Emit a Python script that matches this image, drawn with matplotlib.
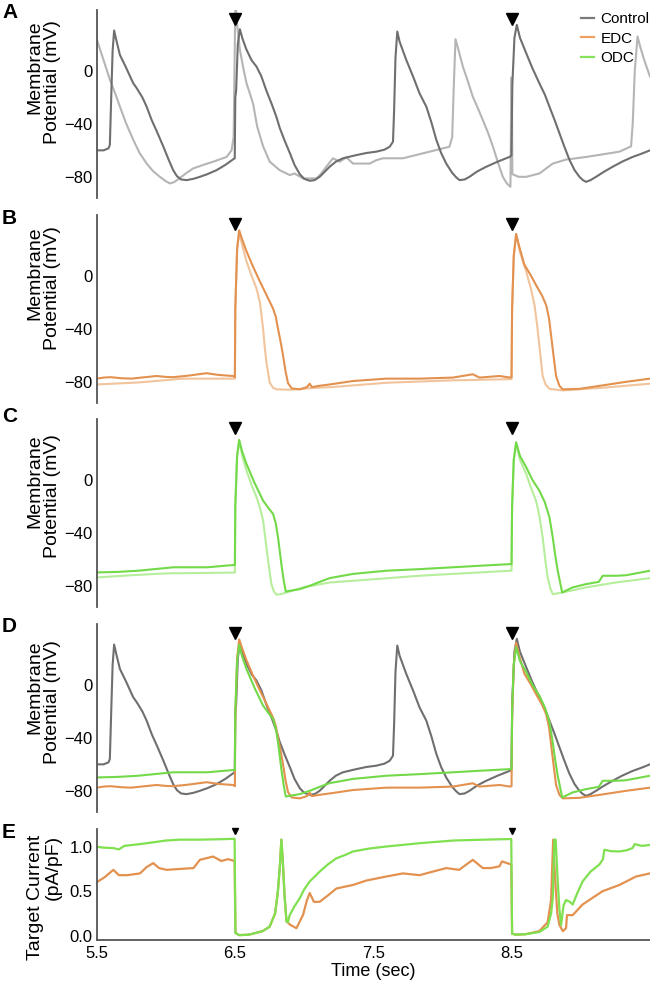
import matplotlib
matplotlib.use("Agg")
import matplotlib.pyplot as plt

plt.rcParams['font.family'] = ['Liberation Sans', 'DejaVu Sans']

# ---- data (time in s, voltage in mV) ----
stim_t = [6.5, 8.5]

# Panel A: control, primary (dark) trace (also used in D)
t_ctrl = [5.5, 5.55, 5.585, 5.595, 5.605, 5.615, 5.626, 5.64, 5.668, 5.71, 5.764, 5.789,
          5.83, 5.861, 5.897, 5.94, 5.981, 6.02, 6.053, 6.08, 6.11, 6.15, 6.2, 6.246,
          6.3, 6.366, 6.43, 6.486, 6.498, 6.502, 6.508, 6.52, 6.535, 6.555, 6.583, 6.62,
          6.655, 6.69, 6.727, 6.765, 6.80, 6.823, 6.86, 6.896, 6.93, 6.968, 7.0, 7.04,
          7.075, 7.112, 7.15, 7.184, 7.23, 7.28, 7.377, 7.45, 7.522, 7.58, 7.618, 7.642,
          7.65, 7.66, 7.673, 7.69, 7.738, 7.79, 7.834, 7.883, 7.92, 7.955, 7.99, 8.027,
          8.07, 8.1, 8.123, 8.16, 8.195, 8.25, 8.316, 8.4, 8.484, 8.498, 8.505, 8.52,
          8.537, 8.56, 8.605, 8.65, 8.70, 8.74, 8.773, 8.81, 8.845, 8.88, 8.917, 8.955,
          8.99, 9.015, 9.038, 9.07, 9.11, 9.17, 9.23, 9.3, 9.374, 9.44, 9.5]
v_ctrl = [-60, -60, -58.5, -56, -20, 15, 30.5, 24, 12, 3, -9.3, -13,
          -20, -27, -37, -47, -57, -67, -75, -79.5, -82, -82.5, -81.5, -80,
          -78, -75, -71, -66.8, -66, -20, -15, 20, 31.5, 24, 16, 8,
          3.3, -4, -15, -25, -35, -43, -53, -62, -71, -78, -81.5, -83,
          -82.5, -80, -76, -72.4, -68.5, -66, -63.6, -62, -61, -59.5, -57.3, -53.5,
          -30, 10, 29.7, 22, 8.3, -5, -17, -27, -39, -52, -62, -70,
          -77, -80.5, -82.5, -82, -80, -76, -72.4, -68.5, -65, -64, -10, 25,
          34.8, 25, 13.4, 2, -9.3, -18, -27, -37, -47, -57, -67, -75,
          -80, -82.5, -83.8, -82.5, -80, -76, -72.4, -68.5, -65, -62.5, -60]

# Panel A: control, second (light) trace
t_ctrl2 = [5.5, 5.55, 5.596, 5.63, 5.668, 5.71, 5.764, 5.81, 5.861, 5.91, 5.957, 5.995,
           6.029, 6.06, 6.10, 6.15, 6.197, 6.27, 6.342, 6.439, 6.475, 6.49, 6.502, 6.506,
           6.515, 6.535, 6.56, 6.583, 6.61, 6.631, 6.66, 6.703, 6.751, 6.823, 6.896, 6.93,
           6.992, 7.088, 7.12, 7.16, 7.208, 7.257, 7.305, 7.353, 7.473, 7.522, 7.57, 7.714,
           7.907, 8.05, 8.07, 8.082, 8.094, 8.11, 8.147, 8.19, 8.219, 8.255, 8.291, 8.33,
           8.364, 8.40, 8.436, 8.465, 8.491, 8.498, 8.501, 8.505, 8.55, 8.605, 8.70, 8.797,
           8.893, 9.038, 9.16, 9.279, 9.363, 9.375, 9.39, 9.41, 9.43, 9.458, 9.5]
v_ctrl2 = [24, 8, -6.8, -16, -27, -39, -52, -62, -70, -76, -80, -83,
           -85, -84, -81, -77, -73.7, -71, -68.6, -65, -60, -50, 50, 50,
           35, 16, 2, -9.3, -18, -25, -42, -57, -68.6, -75, -78.7, -77.5,
           -81.2, -81.2, -78, -72.4, -66, -68.6, -65.3, -70, -70, -67.4, -66, -66,
           -61, -57.3, -50, -10, 24, 18, 3.3, -10, -19.5, -28, -37, -47,
           -57, -69, -80, -85, -87.6, -5, -5, -78, -80, -80, -77.5, -70,
           -67, -65, -63, -61, -57, -40, 0, 26, 18, 8.3, -4.3]

# Panel B: EDC, primary (dark) trace (also used in D)
t_edc = [5.5, 5.55, 5.6, 5.68, 5.75, 5.85, 5.933, 6.0, 6.05, 6.15, 6.294, 6.38,
         6.486, 6.499, 6.502, 6.515, 6.53, 6.55, 6.583, 6.63, 6.679, 6.73, 6.775, 6.795,
         6.811, 6.83, 6.847, 6.865, 6.883, 6.91, 6.968, 7.02, 7.04, 7.055, 7.112, 7.184,
         7.353, 7.594, 7.834, 8.075, 8.219, 8.267, 8.412, 8.489, 8.499, 8.503, 8.515, 8.532,
         8.555, 8.592, 8.635, 8.676, 8.72, 8.749, 8.77, 8.785, 8.80, 8.821, 8.845, 8.869,
         8.99, 9.158, 9.327, 9.5]
v_edc = [-77.6, -76.8, -76.5, -77.3, -77.6, -76.5, -75.6, -76.3, -76.5, -75.5, -73.5, -74.8,
         -75.6, -76.5, -25, 20, 34.4, 28, 18.6, 7, -4, -15, -24.7, -31,
         -40, -50, -60, -72, -81, -85, -85.7, -84, -81.4, -84, -83, -82,
         -79.4, -77.6, -77.6, -76.8, -74.3, -76.8, -75.6, -76.8, -76.5, -25, 15, 31.8,
         22, 8.4, 1, -6.9, -15, -22, -32, -45, -58, -75.6, -83, -85.7,
         -85.3, -82.7, -80, -77.6]

# Panel B: EDC, second (light) trace
t_edc2 = [5.5, 5.8, 6.125, 6.486, 6.499, 6.502, 6.515, 6.53, 6.555, 6.583, 6.62, 6.655,
          6.68, 6.703, 6.715, 6.727, 6.751, 6.775, 6.80, 6.896, 7.088, 7.2, 7.594, 8.075,
          8.49, 8.499, 8.503, 8.515, 8.532, 8.56, 8.605, 8.64, 8.665, 8.685, 8.70, 8.724,
          8.745, 8.773, 8.869, 9.158, 9.5]
v_edc2 = [-82, -80.5, -77.6, -77.6, -77.6, -25, 20, 33, 22, 11, 0, -9.4,
          -20, -40, -54, -65.4, -80.7, -84.5, -85.7, -86, -84.5, -84, -80.7, -78.9,
          -78, -78, -25, 15, 31, 18, 3.3, -10, -22, -38, -52.7, -75.6,
          -82, -85.3, -86.5, -84.5, -81.4]

# Panel C: ODC, primary (dark) trace (also used in D)
t_odc = [5.5, 5.65, 5.8, 6.053, 6.3, 6.486, 6.499, 6.502, 6.515, 6.53, 6.55, 6.583,
         6.64, 6.703, 6.74, 6.775, 6.795, 6.811, 6.835, 6.852, 6.867, 6.968, 7.04, 7.112,
         7.184, 7.353, 7.594, 7.834, 8.075, 8.243, 8.49, 8.499, 8.503, 8.515, 8.532, 8.56,
         8.605, 8.65, 8.70, 8.74, 8.773, 8.797, 8.815, 8.833, 8.865, 8.941, 9.038, 9.13,
         9.158, 9.26, 9.327, 9.5]
v_odc = [-69.9, -69.5, -68.6, -66, -66, -64.3, -64.3, -20, 18, 30.3, 22, 12,
         -2, -15.7, -21, -25.7, -33, -43.4, -63.6, -76, -84.3, -82.5, -80, -77,
         -74.2, -71, -68.6, -67.4, -66, -65, -63.6, -63.6, -20, 15, 28.5, 18,
         9.6, 0, -8.1, -17, -28.2, -43.4, -57, -68.7, -85, -81.2, -78.7, -77,
         -72.4, -72.4, -72, -68.6]

# Panel C: ODC, second (light) trace
t_odc2 = [5.5, 5.75, 6.005, 6.486, 6.499, 6.502, 6.515, 6.53, 6.555, 6.583, 6.62, 6.655,
          6.68, 6.703, 6.72, 6.739, 6.763, 6.78, 6.80, 6.847, 7.0, 7.184, 7.353, 7.834,
          8.49, 8.499, 8.503, 8.515, 8.532, 8.56, 8.605, 8.64, 8.676, 8.70, 8.724, 8.745,
          8.76, 8.78, 8.797, 8.869, 9.038, 9.25, 9.5]
v_odc2 = [-73.7, -72, -70.6, -70, -70, -20, 18, 29, 17, 7, -4, -13,
          -21, -30.8, -45, -61, -78.7, -84, -86.8, -85.8, -81, -77.5, -76.2, -72.4,
          -68.6, -68.6, -20, 15, 27, 15, 4.5, -6, -15.7, -27, -43.4, -62,
          -73.7, -82, -86.3, -85, -81.2, -77.5, -74.2]

# Panel E: target current (pA/pF)
t_cur_odc = [5.5, 5.55, 5.62, 5.66, 5.7, 5.813, 5.909, 6.0, 6.1, 6.246, 6.4, 6.497,
             6.503, 6.53, 6.6, 6.7, 6.75, 6.79, 6.81, 6.825, 6.835, 6.845, 6.858, 6.872,
             6.882, 6.896, 6.93, 6.968, 7.0, 7.04, 7.08, 7.112, 7.17, 7.233, 7.3, 7.353,
             7.47, 7.594, 7.834, 8.075, 8.3, 8.497, 8.503, 8.53, 8.6, 8.7, 8.76, 8.785,
             8.797, 8.809, 8.818, 8.833, 8.845, 8.857, 8.875, 8.893, 8.92, 8.941, 8.975,
             9.013, 9.07, 9.134, 9.16, 9.17, 9.22, 9.279, 9.33, 9.374, 9.39, 9.44, 9.5]
i_cur_odc = [1.0, 0.99, 0.985, 0.97, 1.01, 1.03, 1.05, 1.07, 1.08, 1.08, 1.085, 1.09,
             0.03, 0.005, 0.01, 0.05, 0.10, 0.25, 0.50, 0.80, 1.08, 0.85, 0.45, 0.16,
             0.15, 0.233, 0.33, 0.42, 0.52, 0.61, 0.67, 0.72, 0.80, 0.87, 0.91, 0.947,
             0.98, 1.003, 1.04, 1.07, 1.08, 1.087, 0.02, 0.01, 0.015, 0.04, 0.10, 0.25,
             0.42, 1.08, 1.08, 0.61, 0.30, 0.12, 0.34, 0.40, 0.38, 0.35, 0.48,
             0.61, 0.72, 0.80, 0.86, 0.966, 0.95, 0.947, 0.96, 0.985, 1.03, 1.01, 1.02]

t_cur_edc = [5.5, 5.56, 5.62, 5.66, 5.72, 5.813, 5.86, 5.909, 5.95, 6.005, 6.1, 6.2,
             6.246, 6.342, 6.4, 6.45, 6.497, 6.503, 6.53, 6.6, 6.7, 6.75, 6.79, 6.81,
             6.825, 6.835, 6.845, 6.858, 6.872, 6.9, 6.944, 6.992, 7.02, 7.04, 7.07, 7.112,
             7.17, 7.233, 7.353, 7.45, 7.594, 7.714, 7.834, 7.93, 8.027, 8.12, 8.219, 8.291,
             8.35, 8.412, 8.43, 8.497, 8.503, 8.53, 8.6, 8.7, 8.76, 8.785, 8.8, 8.815,
             8.83, 8.845, 8.87, 8.893, 8.9, 8.941, 9.013, 9.08, 9.158, 9.279, 9.399, 9.5]
i_cur_edc = [0.6, 0.66, 0.74, 0.68, 0.68, 0.70, 0.77, 0.816, 0.76, 0.74, 0.75, 0.76,
             0.853, 0.89, 0.84, 0.86, 0.84, 0.03, 0.005, 0.01, 0.05, 0.10, 0.25, 0.50,
             0.80, 1.08, 0.85, 0.45, 0.16, 0.12, 0.083, 0.233, 0.40, 0.48, 0.38, 0.38,
             0.45, 0.53, 0.57, 0.62, 0.665, 0.70, 0.68, 0.72, 0.76, 0.74, 0.853, 0.76,
             0.76, 0.78, 0.835, 0.80, 0.02, 0.01, 0.015, 0.05, 0.15, 0.40, 1.08, 0.61,
             0.25, 0.12, 0.05, 0.083, 0.23, 0.23, 0.35, 0.42, 0.50, 0.57, 0.665, 0.70]

legend_names = ["Control", "EDC", "ODC"]
xtick_vals = [5.5, 6.5, 7.5, 8.5]

# colours
c_ctrl, c_ctrl_lt = "#6f6f6f", "#b5b5b5"
c_edc, c_edc_lt = "#e3914f", "#f1c49c"
c_odc, c_odc_lt = "#72d948", "#b6ee9c"

fig = plt.figure(figsize=(6.5, 9.82), dpi=100)
H = 982.0
left, width = 96.7 / 650, (650 - 96.7) / 650
# (top px, bottom px) of every panel
boxes = [(10, 198), (215, 403), (419, 607), (624, 812), (829, 940)]
axes = []
for top, bot in boxes:
    ax = fig.add_axes([left, 1 - bot / H, width, (bot - top) / H])
    for s in ["top", "right", "bottom"]:
        ax.spines[s].set_visible(False)
    ax.spines["left"].set_color("#555555")
    ax.spines["left"].set_linewidth(1.3)
    ax.set_xlim(5.5, 9.5)
    ax.tick_params(axis="both", length=0, labelsize=12, pad=3)
    axes.append(ax)

axA, axB, axC, axD, axE = axes
lw = 1.5

axA.plot(t_ctrl2, v_ctrl2, color=c_ctrl_lt, lw=lw)
axA.plot(t_ctrl, v_ctrl, color=c_ctrl, lw=lw)

axB.plot(t_edc2, v_edc2, color=c_edc_lt, lw=lw)
axB.plot(t_edc, v_edc, color=c_edc, lw=lw)

axC.plot(t_odc2, v_odc2, color=c_odc_lt, lw=lw)
axC.plot(t_odc, v_odc, color=c_odc, lw=lw)

axD.plot(t_ctrl, v_ctrl, color=c_ctrl, lw=lw)
axD.plot(t_edc, v_edc, color=c_edc, lw=lw)
axD.plot(t_odc, v_odc, color=c_odc, lw=lw)

for ax in [axA, axB, axC, axD]:
    ax.set_ylim(-96, 46)
    ax.set_yticks([0, -40, -80])
    ax.set_xticks([])
    ax.plot(stim_t, [39, 39], linestyle="none", marker="v", color="black", ms=8, clip_on=False)

# legend in panel A
for name, col in zip(legend_names, ["#7a7a7a", "#f0a060", "#86e35e"]):
    axA.plot([], [], color=col, lw=1.6, label=name)
axA.legend(loc="upper right", bbox_to_anchor=(1.01, 1.02), frameon=False, fontsize=11,
           handlelength=0.9, handletextpad=0.4, labelspacing=0.35, borderaxespad=0)

axE.plot(t_cur_edc, i_cur_edc, color=c_edc, lw=1.6)
axE.plot(t_cur_odc, i_cur_odc, color="#7fe050", lw=1.6)
axE.plot(stim_t, [1.18, 1.18], linestyle="none", marker="v", color="black", ms=4.5, clip_on=False)
axE.set_ylim(-0.05, 1.2)
axE.set_yticks([0.0, 0.5, 1.0])
axE.set_yticklabels(["0.0", "0.5", "1.0"])
axE.set_xticks(xtick_vals)
axE.set_xticklabels([f"{v:.1f}" for v in xtick_vals])
axE.spines["bottom"].set_visible(True)
axE.spines["bottom"].set_color("#555555")
axE.spines["bottom"].set_linewidth(1.3)
axE.tick_params(axis="x", pad=4)
axE.set_xlabel("Time (sec)", fontsize=13, labelpad=2)

# y labels and panel letters
ylab_tops = [20, 226, 434, 640, 835]
ylab_texts = ["Membrane\nPotential (mV)"] * 4 + ["Target Current\n(pA/pF)"]
for top, txt in zip(ylab_tops, ylab_texts):
    fig.text(44 / 650, 1 - top / H, txt, rotation=90, ha="center", va="top",
             multialignment="right", fontsize=14, linespacing=1.05)

letter_y = [12.5, 219, 416, 627, 832]
for lab, yc in zip("ABCDE", letter_y):
    fig.text(2 / 650, 1 - yc / H, lab, ha="left", va="center", fontsize=15, fontweight="bold")

fig.savefig("out.png", dpi=100)
